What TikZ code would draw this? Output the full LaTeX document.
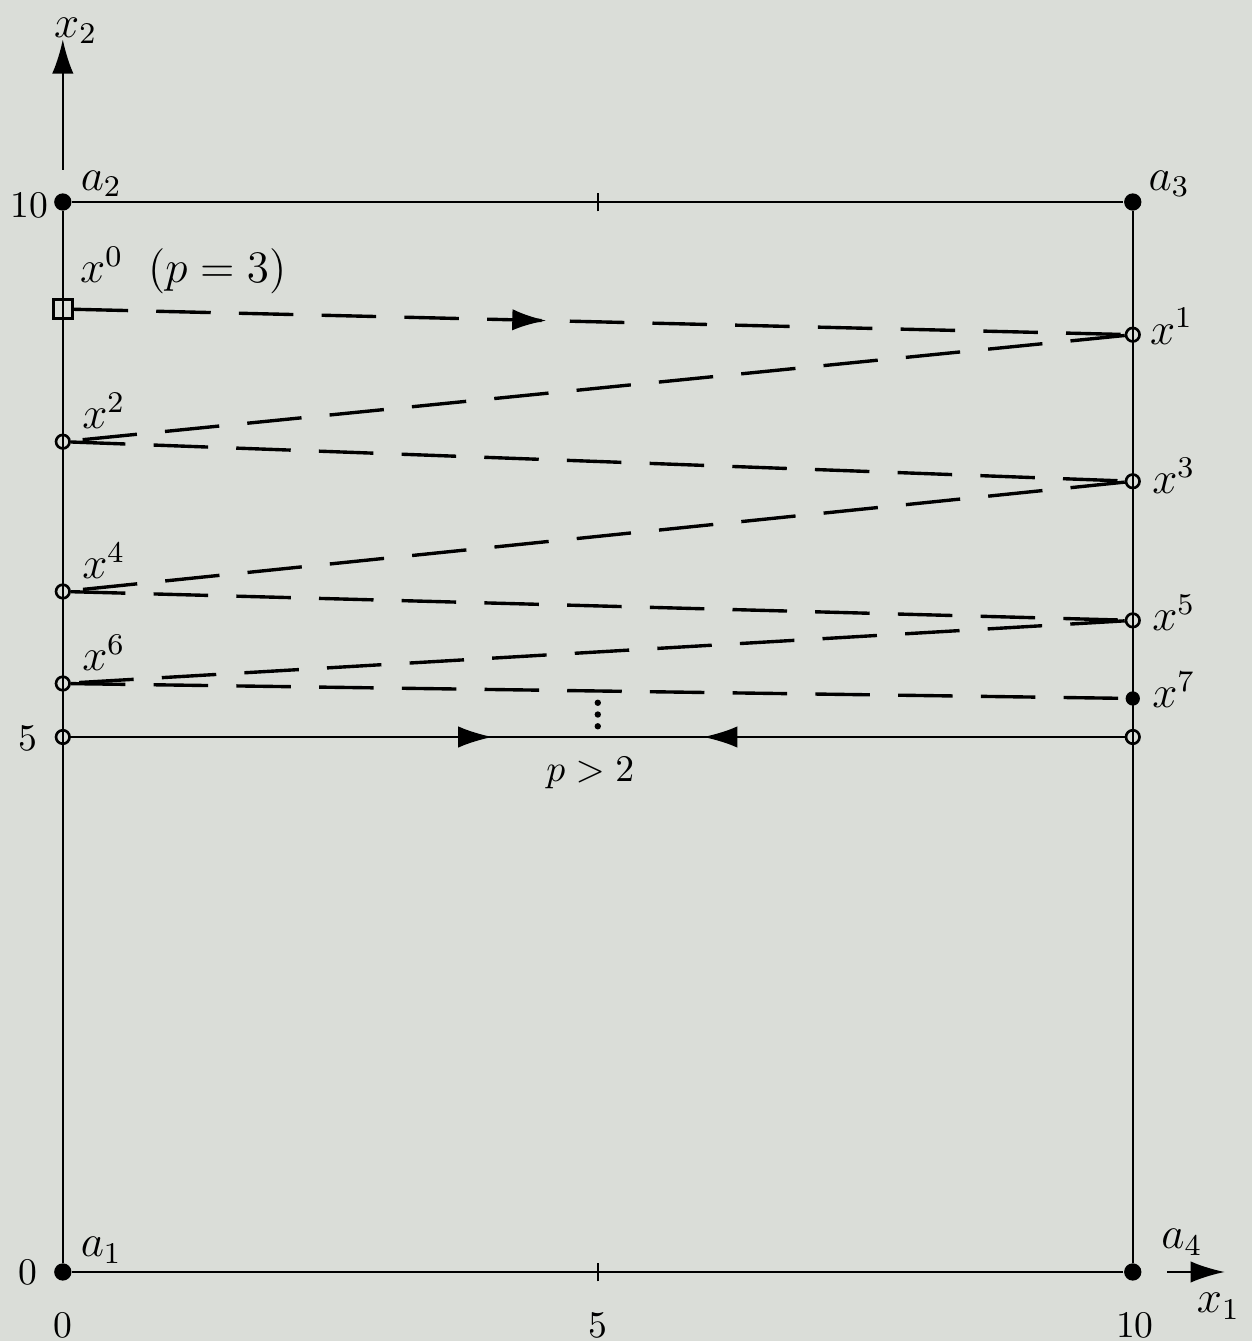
\documentclass[tikz,border=0pt]{standalone}
\usepackage{amsmath}
\usepackage{tikz}
\usetikzlibrary{arrows.meta,positioning,decorations.markings}
\definecolor{papir}{RGB}{218,221,216}
\tikzset{
  dot/.style={circle,fill,inner sep=0pt,minimum size=4.6pt},
  ring/.style={circle,draw,line width=0.7pt,inner sep=0pt,minimum size=3.6pt},
  sq/.style={rectangle,draw,line width=0.7pt,inner sep=0pt,minimum size=5pt},
  arr/.style={-{Latex[length=3.2mm,width=2mm]}},
  dsh/.style={line width=0.9pt,dash pattern=on 14.5pt off 7.5pt},
  frame/.style={line width=0.6pt},
  lbl/.style={font=\large,inner sep=1pt},
  num/.style={font=\normalsize,inner sep=1pt},
}

\begin{document}
\begin{tikzpicture}[x=1cm,y=1cm]
  % paper and size
  \fill[papir] (-0.587,-0.645) rectangle (11.118,11.888);
  \useasboundingbox (-0.587,-0.645) rectangle (11.118,11.888);
  % corners
  \node[dot] (a1) at (0,0) {}; \node[dot] (a2) at (0,10) {};
  \node[dot] (a3) at (10,10) {}; \node[dot] (a4) at (10,0) {};
  % iterates
  \node[sq] (x0) at (0,9.0) {};
  \node[ring] (x1) at (10,8.76) {}; \node[ring] (x2) at (0,7.76) {};
  \node[ring] (x3) at (10,7.39) {}; \node[ring] (x4) at (0,6.36) {};
  \node[ring] (x5) at (10,6.09) {}; \node[ring] (x6) at (0,5.50) {};
  \node[dot,minimum size=3.8pt] (x7) at (10,5.36) {};
  \node[ring] (l5) at (0,5) {}; \node[ring] (r5) at (10,5) {};
  \coordinate (tt) at (5,10); \coordinate (tb) at (5,0);
  % frame
  \draw[frame] (a1) -- (a2); \draw[frame] (a2) -- (a3);
  \draw[frame] (a3) -- (a4); \draw[frame] (a4) -- (a1);
  \draw[frame] ([yshift=-2.5pt]tt) -- ([yshift=2.5pt]tt);
  \draw[frame] ([yshift=-2.5pt]tb) -- ([yshift=2.5pt]tb);
  % axes
  \coordinate (y0) at (0,10.3); \coordinate (y1) at (0,11.52);
  \coordinate (e0) at (10.32,0); \coordinate (e1) at (10.86,0);
  \draw[frame,arr] (y0) -- (y1);
  \draw[frame,arr] (e0) -- (e1);
  % zig-zag path
  \draw[dsh,postaction={decorate},decoration={markings,
    mark=at position 0.45 with {\arrow{Latex[length=3.2mm,width=2mm]}}}] (x0) -- (x1);
  \draw[dsh] (x1) -- (x2);
  \draw[dsh] (x2) -- (x3);
  \draw[dsh] (x3) -- (x4);
  \draw[dsh] (x4) -- (x5);
  \draw[dsh] (x5) -- (x6);
  \draw[dsh] (x6) -- (x7);
  % limit line x2 = 5
  \draw[frame,postaction={decorate},decoration={markings,
    mark=at position 0.40 with {\arrow{Latex[length=3.2mm,width=2mm]}},
    mark=at position 0.60 with {\arrowreversed{Latex[length=3.2mm,width=2mm]}}}] (l5) -- (r5);
  \foreach \h in {5.10,5.21,5.32} \fill (5,\h) circle (0.85pt);
  \node[num] (pp) at (4.93,4.66) {$p>2$};
  % labels
  \node[num] (n10) at (-0.31,9.97) {10};
  \node[num] (n5) at (-0.33,4.99) {5};
  \node[num] (n0) at (-0.33,0) {0};
  \node[num] (m0) at (0,-0.5) {0};
  \node[num] (m5) at (5,-0.5) {5};
  \node[num] (m10) at (10.02,-0.5) {10};
  \node[lbl] (la1) at (0.36,0.2) {$a_1$};
  \node[lbl] (la2) at (0.36,10.17) {$a_2$};
  \node[lbl] (la3) at (10.34,10.17) {$a_3$};
  \node[lbl] (la4) at (10.46,0.28) {$a_4$};
  \node[lbl] (lx2) at (0.12,11.6) {$x_2$};
  \node[lbl] (lx1) at (10.8,-0.32) {$x_1$};
  \node[lbl,anchor=south west] (l0) at (0.12,9.1) {$x^0\;\;(p=3)$};
  \node[lbl,anchor=west] (l1) at (10.12,8.84) {$x^1$};
  \node[lbl,anchor=south west] (l2) at (0.14,7.84) {$x^2$};
  \node[lbl,anchor=west] (l3) at (10.14,7.44) {$x^3$};
  \node[lbl,anchor=south west] (l4) at (0.14,6.44) {$x^4$};
  \node[lbl,anchor=west] (l5t) at (10.14,6.16) {$x^5$};
  \node[lbl,anchor=south west] (l6) at (0.14,5.58) {$x^6$};
  \node[lbl,anchor=west] (l7) at (10.14,5.44) {$x^7$};
\end{tikzpicture}
\end{document}
